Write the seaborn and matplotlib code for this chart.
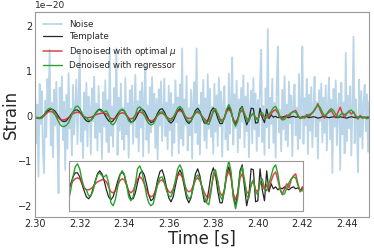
import numpy as np
import seaborn as sns
import matplotlib.pyplot as plt

sns.set_style("white")
plt.rcParams['font.family'] = ['DejaVu Sans']

scale = 1e-20

# time grids: noise every 0.5 ms, curves every 1 ms (2.30 s .. 2.45 s)
t_noise = np.linspace(2.30, 2.45, 301)
t = np.linspace(2.30, 2.45, 151)

# strain values in units of 1e-20
noise = [
    0.42, -0.61, 0.25, -1.35, 0.71, -0.18, 0.55, -0.83, -1.27, 0.34, -0.47, 0.82, 0.12, 1.47, -0.66, 0.29, -0.92, 0.58, -0.21, 0.76,
    -0.39, -1.72, 0.63, -0.15, 0.88, -0.54, 0.31, -1.2, 0.47, -0.73, 0.95, -0.28, 0.16, -0.88, 0.69, -0.42, 0.22, 0.81, -0.63, 0.37,
    1.4, -0.57, 0.09, -0.94, 0.52, -0.31, 0.74, -0.68, 0.43, 0.19, -0.85, 0.61, -0.12, 0.87, -0.49, 0.27, -0.77, 0.66, -0.36, 0.14,
    -0.96, 0.53, -0.24, 0.79, -0.58, 0.35, -0.81, 1.5, -0.44, 0.21, -0.69, 0.62, -0.07, 1.5, -0.87, 0.4, -0.33, 0.72, -0.52, 0.18,
    -0.75, 0.84, -0.41, 0.28, -0.93, 0.57, -0.19, 0.68, -0.62, 0.11, 0.91, -0.48, 0.33, -0.79, 0.55, -0.26, 0.74, -0.9, 0.46, 1.1,
    -0.53, 0.23, -0.82, 0.64, -0.37, 0.86, -0.15, 0.49, -0.71, 0.38, -0.97, 0.59, -0.22, 0.77, -0.56, 0.13, 0.83, -0.45, 0.3, -0.74,
    0.67, -0.32, 0.51, -0.89, 0.26, -0.6, 0.79, -0.14, 0.41, -0.83, 0.7, -0.5, 1.5, -0.66, 0.36, -0.2, 0.89, -0.77, 0.17, -0.43,
    0.58, -0.95, 0.32, 0.75, -0.38, 1.5, -0.63, 0.24, -0.86, 0.52, -0.11, 0.8, -0.55, 0.39, -0.72, 0.92, -0.29, 0.6, -0.47, 0.2,
    -0.84, 0.71, -0.35, 0.46, -0.67, 0.85, -0.23, 0.54, -0.91, 0.3, 0.66, -0.52, 0.15, -0.76, 0.94, -0.4, 0.27, 1.3, -0.64, 0.48,
    -0.27, 0.78, -0.81, 0.37, -0.5, 0.62, -0.13, 0.9, -0.7, 0.43, -0.34, 0.73, -0.92, 0.19, 0.56, -0.61, 0.84, -0.3, 0.5, -0.78,
    0.35, -0.46, 0.69, 1.47, -0.58, 0.22, -0.87, 0.61, -0.25, 1.93, -0.72, 0.4, -0.18, 0.83, -0.6, 0.29, -0.93, 0.65, 1.54, -0.37,
    0.13, -0.79, 0.58, -0.3, 0.88, -0.54, 0.25, -0.68, 0.76, -0.16, 0.45, -0.9, 0.34, 0.7, -0.43, 0.18, -0.74, 0.93, -0.51, 0.28,
    1.54, -0.62, 0.39, -0.21, 0.82, -0.85, 0.47, -0.33, 0.64, -0.7, 0.2, 0.87, -0.46, 0.31, -0.95, 0.57, -0.12, 0.72, -0.59, 0.41,
    -0.38, 0.68, -0.77, 0.26, 0.85, -0.52, 0.36, -1.27, 0.6, -0.24, 0.79, -0.65, 0.17, 0.5, -1.2, 0.74, -0.41, 0.3, -0.83, 1.4,
    -0.56, 0.45, -0.28, 0.66, -0.88, 0.23, 1.76, -0.61, 0.37, -0.15, -1.25, 0.81, -0.47, 0.55, -0.73, 0.29, 0.69, -0.34, 0.48, -0.8,
    0.32,
]

template = [
    -0.03, -0.05, -0.05, -0.02, 0.02, 0.08, 0.12, 0.15, 0.14, 0.10,
    0.03, -0.05, -0.11, -0.13, -0.11, -0.05, 0.02, 0.09, 0.13, 0.13,
    0.09, 0.02, -0.05, -0.11, -0.13, -0.10, -0.03, 0.05, 0.12, 0.15,
    0.12, 0.05, -0.04, -0.11, -0.14, -0.11, -0.04, 0.04, 0.11, 0.14,
    0.11, 0.02, -0.07, -0.13, -0.13, -0.07, 0.03, 0.12, 0.15, 0.11,
    0.02, -0.09, -0.15, -0.13, -0.05, 0.06, 0.14, 0.16, 0.09, -0.02,
    -0.12, -0.16, -0.11, 0.00, 0.11, 0.16, 0.11, -0.01, -0.12, -0.17,
    -0.12, 0.00, 0.12, 0.17, 0.10, -0.04, -0.16, -0.16, -0.04, 0.11,
    0.18, 0.11, -0.05, -0.17, -0.17, -0.04, 0.12, 0.19, 0.09, -0.10,
    -0.20, -0.07, 0.15, 0.21, -0.01, -0.20, -0.09, 0.17, 0.16, -0.16,
    -0.15, 0.17, -0.04, -0.15, 0.15, -0.06, 0.02, -0.03, -0.01, -0.04,
    -0.02, -0.03, -0.01, -0.03, -0.04, -0.02, -0.01, -0.03, -0.02, -0.04,
    -0.03, -0.01, -0.02, -0.04, -0.03, -0.02, -0.03, -0.05, -0.04, -0.02,
    -0.01, -0.03, -0.04, -0.03, -0.02, -0.03, -0.04, -0.02, -0.03, -0.04,
    -0.05, -0.03, -0.02, -0.03, -0.04, -0.03, -0.02, -0.03, -0.04, -0.03,
    -0.03,
]

denoised_mu = [
    -0.05, -0.04, -0.06, -0.05, 0.00, 0.05, 0.09, 0.10, 0.08, 0.03,
    -0.03, -0.07, -0.09, -0.09, -0.07, -0.04, 0.01, 0.05, 0.07, 0.08,
    0.07, 0.03, -0.02, -0.04, -0.04, -0.03, -0.01, 0.02, 0.04, 0.05,
    0.06, 0.06, 0.04, -0.01, -0.06, -0.07, -0.05, 0.00, 0.05, 0.07,
    0.06, 0.01, -0.05, -0.07, -0.05, 0.01, 0.07, 0.09, 0.07, 0.02,
    -0.04, -0.09, -0.11, -0.10, -0.05, 0.01, 0.05, 0.06, 0.03, -0.02,
    -0.06, -0.07, -0.03, 0.04, 0.10, 0.12, 0.09, 0.02, -0.04, -0.06,
    -0.05, 0.00, 0.06, 0.08, 0.05, -0.01, -0.07, -0.11, -0.12, -0.03,
    0.09, 0.12, 0.04, -0.07, -0.10, -0.04, 0.09, 0.15, 0.08, -0.08,
    -0.14, -0.07, 0.08, 0.12, 0.04, -0.06, -0.08, 0.01, 0.05, -0.04,
    -0.06, 0.03, 0.02, -0.04, 0.01, -0.03, 0.05, 0.11, 0.14, 0.06,
    -0.04, -0.08, -0.03, 0.02, -0.02, 0.06, 0.10, 0.12, 0.02, -0.06,
    -0.01, -0.05, 0.03, -0.02, 0.04, 0.09, 0.17, 0.27, 0.13, 0.02,
    -0.05, 0.05, 0.08, 0.12, 0.03, -0.04, 0.08, 0.19, 0.05, -0.03,
    0.06, 0.10, 0.04, 0.09, -0.02, -0.07, 0.01, -0.05, -0.02, -0.06,
    -0.03,
]

denoised_reg = [
    -0.05, -0.03, -0.06, -0.04, 0.03, 0.11, 0.16, 0.17, 0.12, 0.03,
    -0.08, -0.18, -0.23, -0.24, -0.21, -0.15, -0.04, 0.09, 0.19, 0.22,
    0.17, 0.06, -0.02, -0.04, -0.10, -0.10, -0.05, 0.04, 0.11, 0.13,
    0.10, 0.09, 0.11, 0.03, -0.17, -0.20, -0.14, -0.02, 0.10, 0.15,
    0.12, 0.02, -0.11, -0.15, -0.11, 0.02, 0.17, 0.20, 0.14, 0.03,
    -0.09, -0.17, -0.20, -0.18, -0.09, 0.02, 0.08, 0.09, 0.04, -0.05,
    -0.10, -0.11, -0.05, 0.06, 0.17, 0.21, 0.16, 0.04, -0.08, -0.13,
    -0.11, -0.02, 0.08, 0.11, 0.07, -0.02, -0.11, -0.17, -0.19, -0.06,
    0.12, 0.16, 0.05, -0.10, -0.14, -0.05, 0.15, 0.25, 0.14, -0.12,
    -0.23, -0.12, 0.12, 0.19, 0.06, -0.10, -0.12, 0.02, 0.06, -0.06,
    -0.09, 0.03, 0.07, -0.02, -0.05, 0.02, 0.10, 0.18, 0.21, 0.12,
    -0.03, -0.09, -0.08, -0.02, 0.03, 0.07, 0.09, 0.08, 0.01, -0.05,
    -0.05, -0.02, 0.01, 0.03, 0.05, 0.10, 0.18, 0.23, 0.19, 0.08,
    0.00, 0.04, 0.12, 0.16, 0.12, 0.03, -0.03, 0.02, 0.06, 0.03,
    0.05, 0.11, 0.13, 0.08, 0.00, -0.04, -0.02, -0.05, -0.03, -0.06,
    -0.05,
]

noise = np.array(noise) * scale
template = np.array(template) * scale
denoised_mu = np.array(denoised_mu) * scale
denoised_reg = np.array(denoised_reg) * scale

fig = plt.figure(figsize=(3.74, 2.49), dpi=100)
ax = fig.add_axes([0.094, 0.130, 0.893, 0.822])

sns.lineplot(x=t_noise, y=noise, ax=ax, color='C0', alpha=0.3, lw=1.3, label='Noise')
sns.lineplot(x=t, y=template, ax=ax, color='0.15', lw=0.9, label='Template')
sns.lineplot(x=t, y=denoised_mu, ax=ax, color='C3', alpha=0.85, lw=1.1, label=r'Denoised with optimal $\mu$')
sns.lineplot(x=t, y=denoised_reg, ax=ax, color='C2', lw=1.0, label='Denoised with regressor')

ax.set_xlim(2.30, 2.45)
ax.set_ylim(-2.24e-20, 2.31e-20)
ax.set_xlabel('Time [s]', fontsize=12, labelpad=0)
ax.set_ylabel('Strain', fontsize=12, labelpad=-1)
ax.tick_params(labelsize=7, length=0, pad=2)
ax.yaxis.get_offset_text().set_fontsize(6.5)
for s in ax.spines.values():
    s.set_color('0.6')
ax.legend(loc='upper left', fontsize=6.3, frameon=False, labelspacing=0.4, handlelength=2.2)

# zoomed inset without the noise
axins = ax.inset_axes([2.315, -2.11e-20, 0.1055, 1.11e-20], transform=ax.transData)
sns.lineplot(x=t, y=template, ax=axins, color='0.15', lw=0.9)
sns.lineplot(x=t, y=denoised_mu, ax=axins, color='C3', alpha=0.85, lw=1.1)
sns.lineplot(x=t, y=denoised_reg, ax=axins, color='C2', lw=1.0)
axins.set_xlim(2.315, 2.4205)
axins.set_ylim(-0.25e-20, 0.25e-20)
axins.set_xticks([])
axins.set_yticks([])
axins.set_xlabel('')
axins.set_ylabel('')
for s in axins.spines.values():
    s.set_color('0.6')

fig.savefig('out.png', dpi=100)
